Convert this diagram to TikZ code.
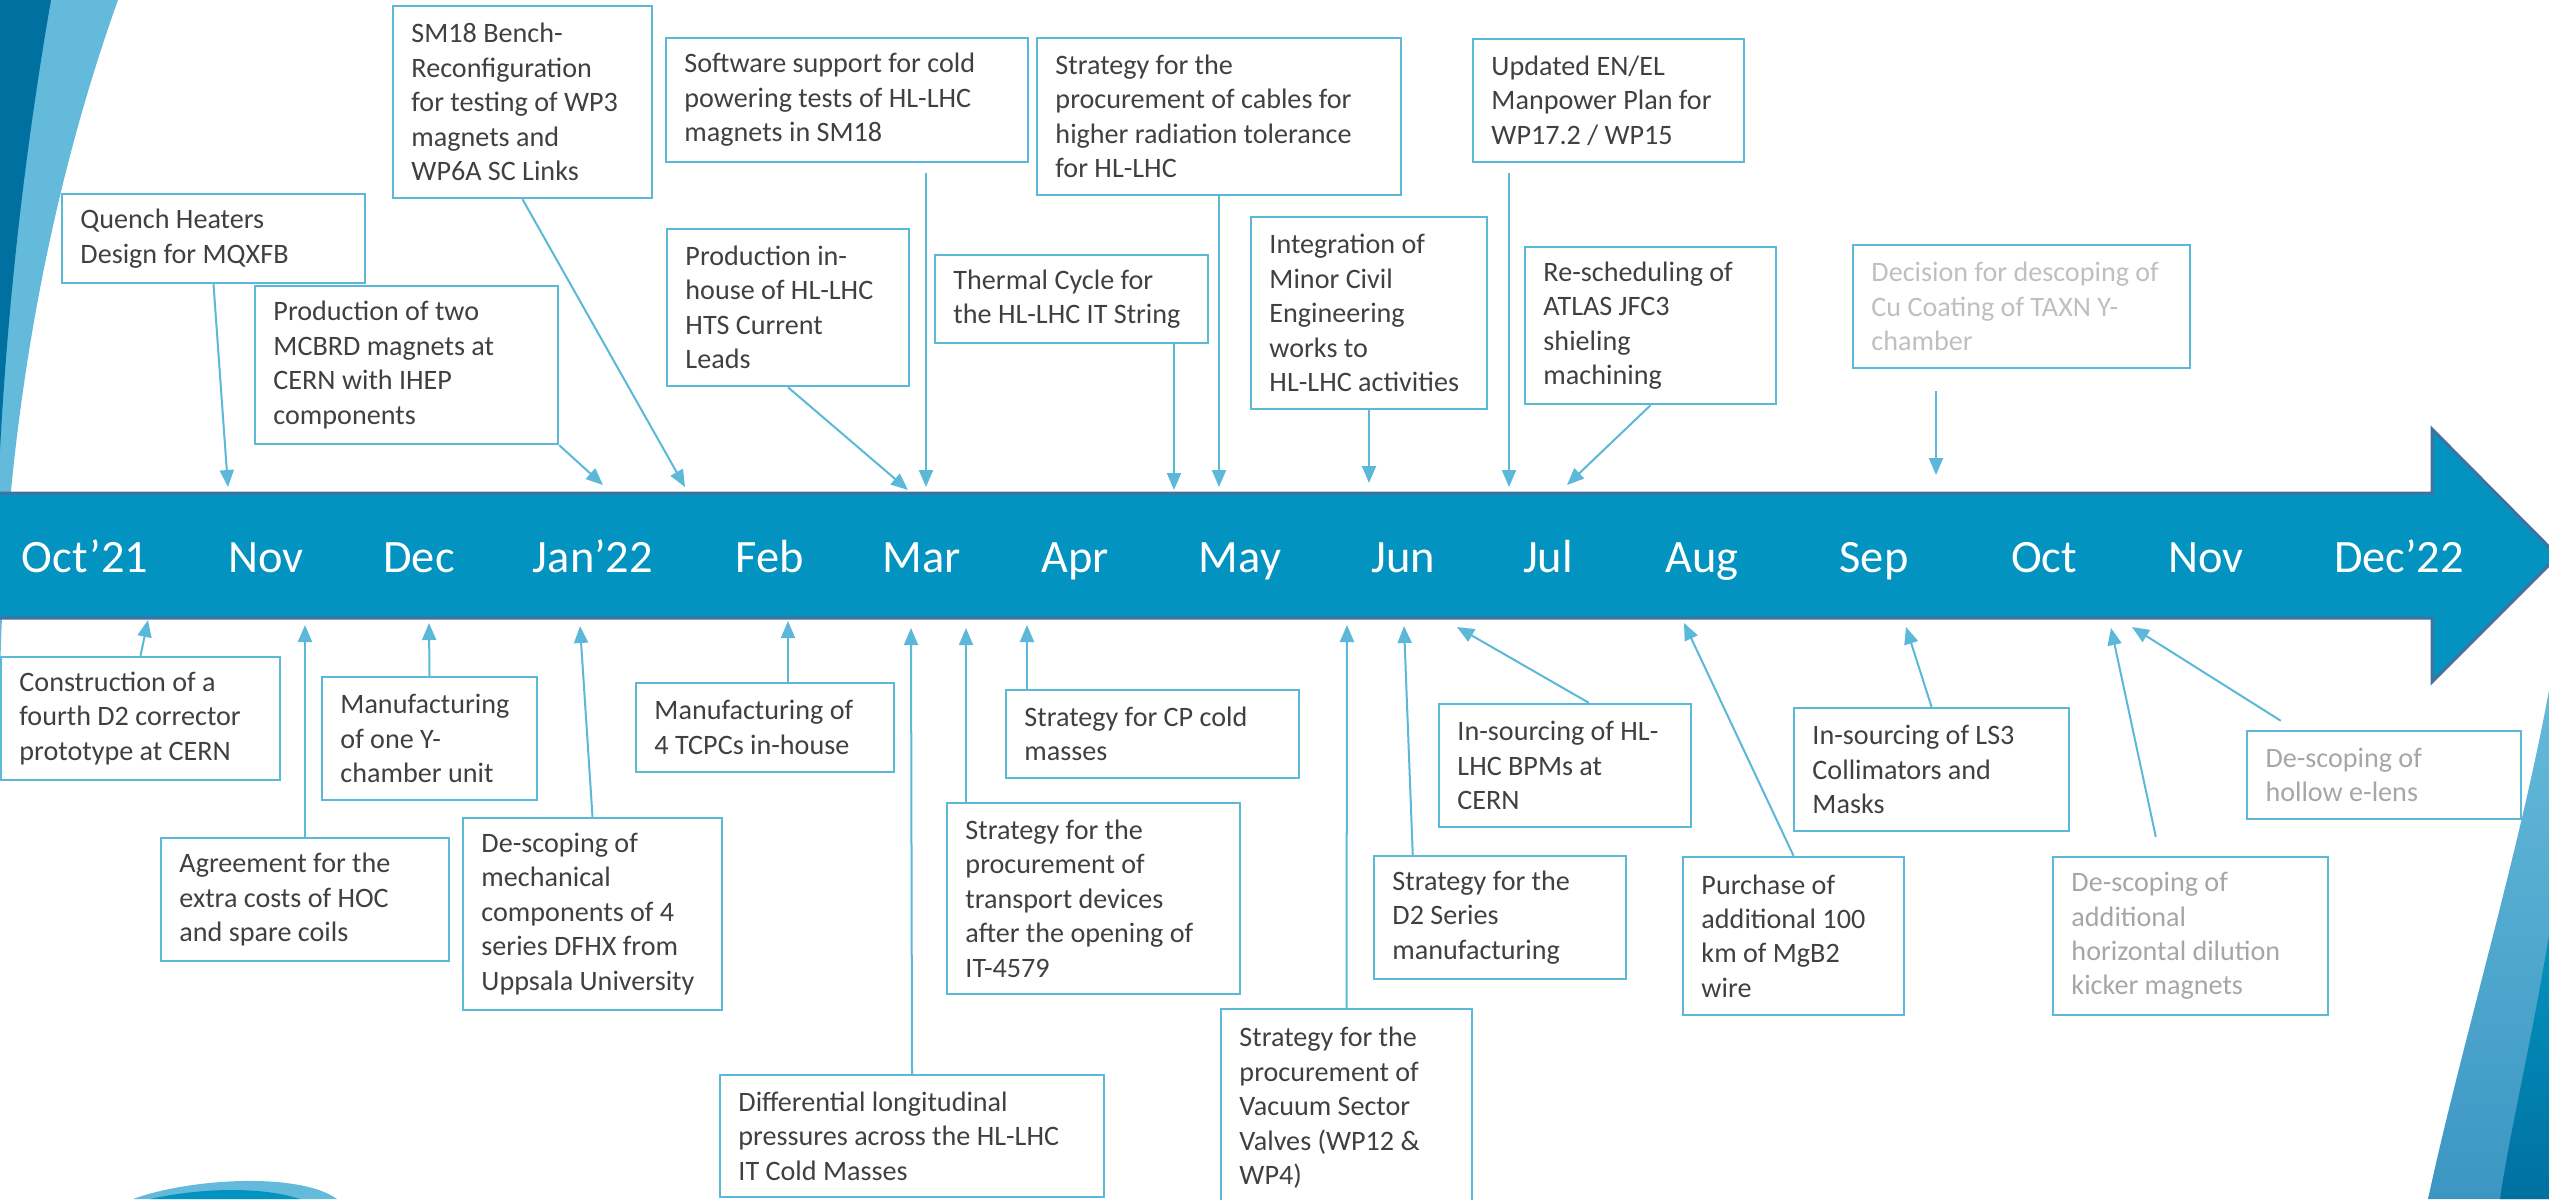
\documentclass[tikz,border=0pt]{standalone}
\usepackage{fontspec}
\setmainfont{Carlito}
\usetikzlibrary{arrows.meta,fit,calc}
\definecolor{barfill}{RGB}{3,147,192}
\definecolor{barline}{RGB}{65,113,156}
\definecolor{lb}{RGB}{91,184,216}
\definecolor{txtc}{RGB}{64,64,64}
\definecolor{gtxt}{RGB}{166,166,166}
\definecolor{gtxtl}{RGB}{191,191,191}
\definecolor{swl}{RGB}{100,186,218}
\definecolor{swm}{RGB}{60,150,195}
\definecolor{swd}{RGB}{0,112,160}
\begin{document}
\begin{tikzpicture}[x=0.01cm,y=-0.01cm,
  box/.style={draw=lb, line width=0.025cm, inner sep=0pt, fit={#1}},
  lbl/.style={anchor=west, align=left, inner sep=0pt, text=txtc, font=\fontsize{8}{9.8}\selectfont},
  glbl/.style={lbl, text=gtxt},
  arr/.style={draw=lb, line width=0.02cm, -{Triangle[length=0.17cm,width=0.14cm]}},
  month/.style={anchor=base, text=white, inner sep=0pt, font=\fontsize{13.2}{15}\selectfont}]
\useasboundingbox (0,0) rectangle (2549,1199);
\clip (0,0) rectangle (2549,1199);

% decorations
\fill[swl] (0,0) -- (118,0) .. controls (50,190) and (5,420) .. (0,680) -- cycle;
\fill[swd] (0,0) -- (51,0) .. controls (25,150) and (8,300) .. (0,450) -- cycle;
\shade[top color=swl, bottom color=swm] (2549,690) .. controls (2520,850) and (2460,1050) .. (2428,1199) -- (2549,1199) -- cycle;
\shade[top color=barfill, bottom color=swd] (2549,935) .. controls (2530,1050) and (2510,1130) .. (2500,1199) -- (2549,1199) -- cycle;
\fill[swl] (133,1199) .. controls (190,1178) and (300,1172) .. (337,1199) -- cycle;
\fill[barfill] (150,1199) .. controls (200,1188) and (260,1186) .. (300,1199) -- cycle;

% timeline bar
\filldraw[fill=barfill, draw=barline, line width=0.03cm]
  (-5,493) -- (2432,493) -- (2432,429) -- (2558,556) -- (2432,682) -- (2432,618) -- (-5,618) -- cycle;

\node[month] (m1) at (85,572) {Oct’21};
\node[month] (m2) at (266,572) {Nov};
\node[month] (m3) at (419,572) {Dec};
\node[month] (m4) at (593,572) {Jan’22};
\node[month] (m5) at (770,572) {Feb};
\node[month] (m6) at (922,572) {Mar};
\node[month] (m7) at (1075,572) {Apr};
\node[month] (m8) at (1240,572) {May};
\node[month] (m9) at (1403,572) {Jun};
\node[month] (m10) at (1548,572) {Jul};
\node[month] (m11) at (1702,572) {Aug};
\node[month] (m12) at (1874,572) {Sep};
\node[month] (m13) at (2044,572) {Oct};
\node[month] (m14) at (2206,572) {Nov};
\node[month] (m15) at (2399,572) {Dec’22};

% ---------- top boxes ----------
\node[box={(62,194)(365,283)}] (q) {};
\node[lbl] at ([xshift=0.19cm]q.west) {Quench Heaters\\Design for MQXFB};
\node[box={(393,6)(652,198)}] (sm) {};
\node[lbl] at ([xshift=0.19cm]sm.west) {SM18 Bench-\\Reconfiguration\\for testing of WP3\\magnets and\\WP6A SC Links};
\node[box={(255,286)(558,444)}] (p2) {};
\node[lbl] at ([xshift=0.19cm]p2.west) {Production of two\\MCBRD magnets at\\CERN with IHEP\\components};
\node[box={(666,38)(1028,162)}] (soft) {};
\node[lbl] at ([xshift=0.19cm]soft.west) {Software support for cold\\powering tests of HL-LHC\\magnets in SM18};
\node[box={(667,229)(909,386)}] (ph) {};
\node[lbl] at ([xshift=0.19cm]ph.west) {Production in-\\house of HL-LHC\\HTS Current\\Leads};
\node[box={(935,255)(1208,343)}] (th) {};
\node[lbl] at ([xshift=0.19cm]th.west) {Thermal Cycle for\\the HL-LHC IT String};
\node[box={(1037,38)(1401,195)}] (cab) {};
\node[lbl] at ([xshift=0.19cm]cab.west) {Strategy for the\\procurement of cables for\\higher radiation tolerance\\for HL-LHC};
\node[box={(1251,217)(1487,409)}] (integ) {};
\node[lbl] at ([xshift=0.19cm]integ.west) {Integration of\\Minor Civil\\Engineering\\works to\\HL-LHC activities};
\node[box={(1473,39)(1744,162)}] (upd) {};
\node[lbl] at ([xshift=0.19cm]upd.west) {Updated EN/EL\\Manpower Plan for\\WP17.2 / WP15};
\node[box={(1525,247)(1776,404)}] (resch) {};
\node[lbl] at ([xshift=0.19cm]resch.west) {Re-scheduling of\\ATLAS JFC3\\shieling\\machining};
\node[box={(1853,245)(2190,368)}] (dec) {};
\node[lbl, text=gtxtl] at ([xshift=0.19cm]dec.west) {Decision for descoping of\\Cu Coating of TAXN Y-\\chamber};

% top arrow tips
\coordinate (t1) at (228,487);
\coordinate (t2) at (685,487);
\coordinate (t3) at (603,485);
\coordinate (t4) at (926,487);
\coordinate (t5) at (908,490);
\coordinate (t6) at (1174,490);
\coordinate (t7) at (1219,487);
\coordinate (t8) at (1369,483);
\coordinate (t9) at (1509,487);
\coordinate (t10) at (1567,485);
\coordinate (t11) at (1936,475);

\draw[arr] (q.south) -- (t1);
\draw[arr] (sm.south) -- (t2);
\draw[arr] (p2.south east) -- (t3);
\draw[arr, shorten <=0.1cm] (soft.south -| t4) -- (t4);
\draw[arr] (ph.south) -- (t5);
\draw[arr] (th.south -| t6) -- (t6);
\draw[arr] (cab.south) -- (t7);
\draw[arr] (integ.south) -- (t8);
\draw[arr, shorten <=0.1cm] (upd.south -| t9) -- (t9);
\draw[arr] (resch.south) -- (t10);
\draw[arr, shorten <=0.22cm] (dec.south -| t11) -- (t11);

% ---------- bottom boxes ----------
\node[box={(1,657)(280,780)}] (cons) {};
\node[lbl] at ([xshift=0.19cm]cons.west) {Construction of a\\fourth D2 corrector\\prototype at CERN};
\node[box={(161,838)(449,961)}] (agr) {};
\node[lbl] at ([xshift=0.19cm]agr.west) {Agreement for the\\extra costs of HOC\\and spare coils};
\node[box={(322,677)(537,800)}] (my) {};
\node[lbl] at ([xshift=0.19cm]my.west) {Manufacturing\\of one Y-\\chamber unit};
\node[box={(463,818)(722,1010)}] (dm) {};
\node[lbl] at ([xshift=0.19cm]dm.west) {De-scoping of\\mechanical\\components of 4\\series DFHX from\\Uppsala University};
\node[box={(636,683)(894,772)}] (tc) {};
\node[lbl] at ([xshift=0.19cm]tc.west) {Manufacturing of\\4 TCPCs in-house};
\node[box={(720,1075)(1104,1197)}] (diff) {};
\node[lbl] at ([xshift=0.19cm]diff.west) {Differential longitudinal\\pressures across the HL-LHC\\IT Cold Masses};
\node[box={(947,803)(1240,994)}] (tr) {};
\node[lbl] at ([xshift=0.19cm]tr.west) {Strategy for the\\procurement of\\transport devices\\after the opening of\\IT-4579};
\node[box={(1006,690)(1299,778)}] (cp) {};
\node[lbl] at ([xshift=0.19cm]cp.west) {Strategy for CP cold\\masses};
\node[box={(1221,1009)(1472,1207)}] (vac) {};
\node[lbl] at ([xshift=0.19cm]vac.west) {Strategy for the\\procurement of\\Vacuum Sector\\Valves (WP12 \&\\WP4)};
\node[box={(1374,856)(1626,979)}] (d2) {};
\node[lbl] at ([xshift=0.19cm]d2.west) {Strategy for the\\D2 Series\\manufacturing};
\node[box={(1439,704)(1691,827)}] (bp) {};
\node[lbl] at ([xshift=0.19cm]bp.west) {In-sourcing of HL-\\LHC BPMs at\\CERN};
\node[box={(1683,857)(1904,1015)}] (pur) {};
\node[lbl] at ([xshift=0.19cm]pur.west) {Purchase of\\additional 100\\km of MgB2\\wire};
\node[box={(1794,708)(2069,831)}] (ls) {};
\node[lbl] at ([xshift=0.19cm]ls.west) {In-sourcing of LS3\\Collimators and\\Masks};
\node[box={(2053,857)(2328,1015)}] (add) {};
\node[glbl] at ([xshift=0.19cm]add.west) {De-scoping of\\additional\\horizontal dilution\\kicker magnets};
\node[box={(2247,731)(2521,819)}] (hol) {};
\node[glbl] at ([xshift=0.19cm]hol.west) {De-scoping of\\hollow e-lens};

% bottom arrow tips
\coordinate (b1) at (148,620);
\coordinate (b2) at (305,625);
\coordinate (b3) at (429,623);
\coordinate (b4) at (580,626);
\coordinate (b5) at (788,621);
\coordinate (b6) at (911,628);
\coordinate (b7) at (966,628);
\coordinate (b8) at (1027,625);
\coordinate (b9) at (1347,625);
\coordinate (b10) at (1404,626);
\coordinate (b11) at (1457,627);
\coordinate (b12) at (1684,623);
\coordinate (b13) at (1906,627);
\coordinate (b14) at (2111,628);
\coordinate (b15) at (2132,627);

\draw[arr] (cons.north) -- (b1);
\draw[arr] (agr.north) -- (b2);
\draw[arr] (my.north) -- (b3);
\draw[arr] (dm.north) -- (b4);
\draw[arr] (tc.north -| b5) -- (b5);
\draw[arr] (diff.north) -- (b6);
\draw[arr] (tr.north -| b7) -- (b7);
\draw[arr] (cp.north -| b8) -- (b8);
\draw[arr] (vac.north) -- (b9);
\draw[arr] ($(d2.north west)+(40,0)$) -- (b10);
\draw[arr] ($(bp.north west)+(151,0)$) -- (b11);
\draw[arr] (pur.north) -- (b12);
\draw[arr] (ls.north) -- (b13);
\draw[arr] ($(add.north west)+(104,-19)$) -- (b14);
\draw[arr] ($(hol.north west)+(35,-9)$) -- (b15);
\end{tikzpicture}
\end{document}
